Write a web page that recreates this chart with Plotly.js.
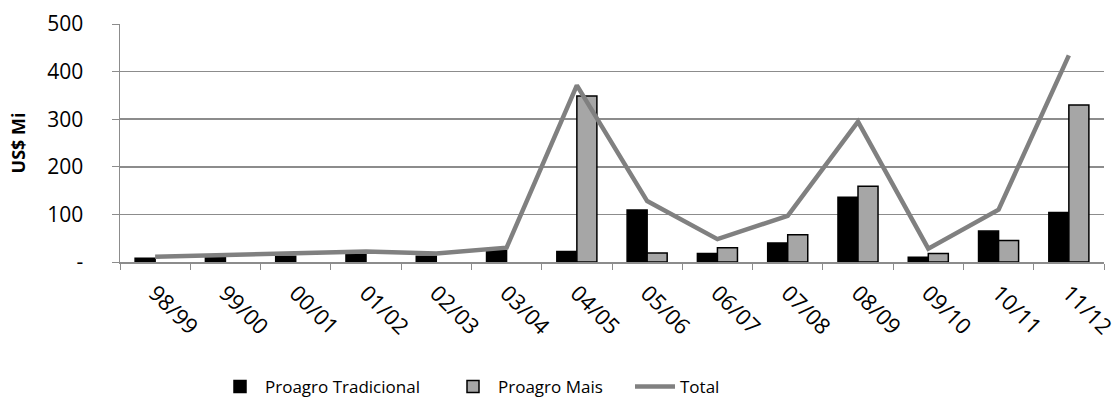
<!DOCTYPE html>
<html>
<head>
<meta charset="utf-8">
<script src="https://cdn.plot.ly/plotly-3.0.1.min.js"></script>
<style>html,body{margin:0;padding:0;background:#fff;}#chart{width:1120px;height:399px;}</style>
</head>
<body>
<div id="chart"></div>
<script>
const categories = ["98/99","99/00","00/01","01/02","02/03","03/04","04/05","05/06","06/07","07/08","08/09","09/10","10/11","11/12"];
const proagroTradicional = [8, 9, 12, 17, 12, 24, 22, 109, 18, 40, 136, 10, 65, 104];
const proagroMais = [null, null, null, null, null, null, 349, 19, 30, 57, 159, 18, 45, 330];
const total = [11, 15, 17, 22, 18, 30, 371, 128, 48, 97, 295, 28, 110, 434];
const yTickVals = [0, 100, 200, 300, 400, 500];
const yTickText = ["-", "100", "200", "300", "400", "500"];

const fontFam = "Open Sans, sans-serif";
const traces = [
  {type:"bar", name:"Proagro Tradicional", x:categories, y:proagroTradicional,
   marker:{color:"#000000", line:{color:"#000000", width:1.5}}, legend:"legend"},
  {type:"bar", name:"Proagro Mais", x:categories, y:proagroMais,
   marker:{color:"#A6A6A6", line:{color:"#000000", width:1.5}}, legend:"legend2"},
  {type:"scatter", mode:"lines", name:"Total", x:categories, y:total,
   line:{color:"#808080", width:4.5}, legend:"legend3"}
];
const legBase = {orientation:"h", xref:"container", yref:"container", yanchor:"middle", y:1-387/399,
  font:{family:fontFam, size:17, color:"#000"}, bgcolor:"rgba(0,0,0,0)", itemwidth:40};
const layout = {
  width:1120, height:399,
  margin:{l:120, r:16, t:24, b:137},
  paper_bgcolor:"#fff", plot_bgcolor:"#fff",
  barmode:"group", bargap:0.43, bargroupgap:0,
  font:{family:fontFam, size:17, color:"#000"},
  xaxis:{type:"category", tickangle:45, tickson:"boundaries", ticks:"outside", ticklen:6,
    tickcolor:"#8c8c8c", showline:true, linecolor:"#8c8c8c", linewidth:1.5,
    showgrid:false, ticklabelstandoff:8, tickfont:{family:fontFam, size:22, color:"#000"}},
  yaxis:{range:[0,500], tickvals:yTickVals, ticktext:yTickText, ticks:"outside", ticklen:7,
    tickcolor:"#8c8c8c", showline:true, linecolor:"#8c8c8c", linewidth:1.5,
    gridcolor:"#8c8c8c", gridwidth:1.5, zeroline:false, ticklabelstandoff:24,
    tickfont:{family:fontFam, size:21, color:"#000"},
    title:{text:"<b>US$ Mi</b>", font:{family:fontFam, size:18, color:"#000"}, standoff:17}},
  showlegend:true,
  legend: Object.assign({}, legBase, {x:215/1120, xanchor:"left"}),
  legend2: Object.assign({}, legBase, {x:448/1120, xanchor:"left"}),
  legend3: Object.assign({}, legBase, {x:630/1120, xanchor:"left"})
};
Plotly.newPlot("chart", traces, layout, {displayModeBar:false, staticPlot:true});
</script>
</body>
</html>
